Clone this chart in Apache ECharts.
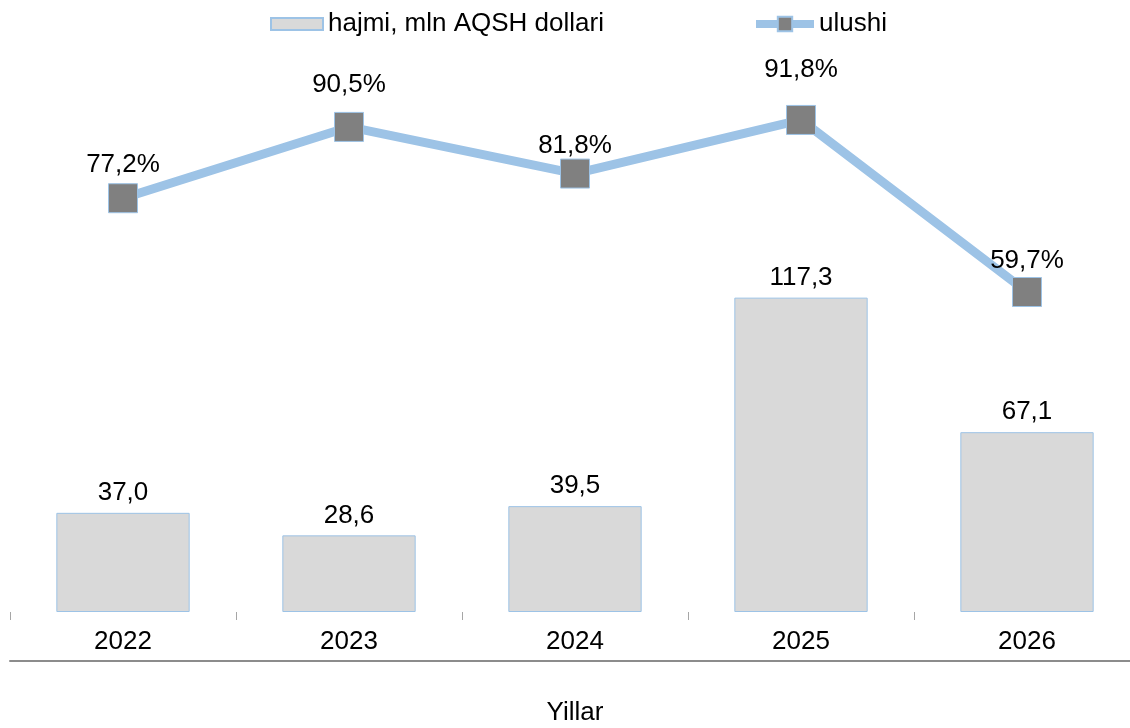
<!DOCTYPE html>
<html>
<head>
<meta charset="utf-8">
<script src="https://cdn.jsdelivr.net/npm/echarts@6/dist/echarts.min.js"></script>
<style>
  html, body { margin: 0; padding: 0; background: #fff; }
  #chart { width: 1130px; height: 728px; }
</style>
</head>
<body>
<div id="chart"></div>
<script>
  const years = ['2022', '2023', '2024', '2025', '2026']
  const volume = [37.0, 28.6, 39.5, 117.3, 67.1]
  const share = [77.2, 90.5, 81.8, 91.8, 59.7]
  // gap of each percent label above its marker (labels were placed by hand)
  const shareLabelGap = [5, 14, 0, 22, 3]

  const barName = 'hajmi, mln AQSH dollari'
  const lineName = 'ulushi'
  const font = 'Liberation Sans, Arial, sans-serif'

  function comma (v) {
    return v.toFixed(1).replace('.', ',')
  }

  let chart = echarts.init(document.getElementById('chart'))
  let option = {
    animation: false,
    textStyle: { fontFamily: font, color: '#000' },
    legend: [
      {
        data: [{ name: barName, icon: 'rect' }],
        left: 270,
        top: 11,
        padding: 0,
        itemWidth: 52,
        itemHeight: 12,
        textStyle: { fontSize: 26, color: '#000', fontFamily: font }
      },
      {
        data: [lineName],
        left: 752,
        top: 11,
        padding: 0,
        itemWidth: 58,
        itemHeight: 18,
        lineStyle: { width: 8, color: '#9dc3e6' },
        textStyle: { fontSize: 26, color: '#000', fontFamily: font }
      }
    ],
    grid: { left: 10, right: -10, top: 76, bottom: 116, outerBoundsMode: 'none' },
    xAxis: [
      {
        type: 'category',
        data: years,
        axisLine: { show: false },
        axisTick: { show: true, length: 8, lineStyle: { color: '#a6a6a6', width: 1 } },
        axisLabel: { fontSize: 26, color: '#000', margin: 17, fontFamily: font },
        name: 'Yillar',
        nameLocation: 'middle',
        nameGap: 88,
        nameTextStyle: { fontSize: 26, color: '#000', fontFamily: font }
      },
      {
        type: 'category',
        data: years,
        position: 'bottom',
        offset: 49,
        axisLine: { show: true, onZero: false, lineStyle: { color: '#8c8c8c', width: 2 } },
        axisTick: { show: false },
        axisLabel: { show: false }
      }
    ],
    yAxis: [
      { type: 'value', min: 0, max: 200, show: false },
      { type: 'value', min: 0, max: 100, show: false }
    ],
    series: [
      {
        name: barName,
        type: 'bar',
        xAxisIndex: 0,
        data: volume,
        barWidth: '59%',
        itemStyle: { color: '#d9d9d9', borderColor: '#9dc3e6', borderWidth: 1 },
        label: {
          show: true,
          position: 'top',
          distance: 7,
          fontSize: 26,
          color: '#000',
          fontFamily: font,
          formatter: p => comma(p.value)
        }
      },
      {
        name: lineName,
        type: 'line',
        xAxisIndex: 0,
        yAxisIndex: 1,
        data: share.map((v, i) => ({ value: v, label: { distance: shareLabelGap[i] } })),
        symbol: 'rect',
        symbolSize: 29,
        lineStyle: { color: '#9dc3e6', width: 9 },
        itemStyle: { color: '#808080', borderColor: '#9dc3e6', borderWidth: 1 },
        label: {
          show: true,
          position: 'top',
          fontSize: 26,
          color: '#000',
          fontFamily: font,
          formatter: p => comma(p.value) + '%'
        }
      }
    ]
  }
  chart.setOption(option)
</script>
</body>
</html>
